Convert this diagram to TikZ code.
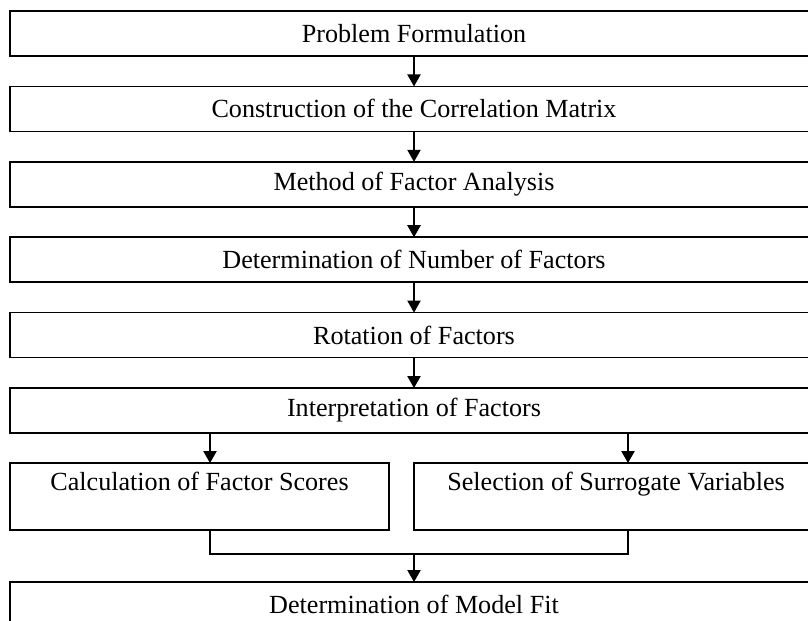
\documentclass[tikz,border=0pt]{standalone}
\usepackage{fontspec}
\setmainfont{Liberation Serif}
\usetikzlibrary{arrows.meta,positioning}

\begin{document}
\begin{tikzpicture}[% px units, y runs down
			x=0.75pt,y=-0.75pt,
			every node/.style={
				align=center,		% so that "\\" works
				inner sep=0pt,outer sep=0pt,
				font=\fontsize{19.6pt}{23.5pt}\selectfont
			},
			stepbox/.style={rectangle,draw=black,line width=1.3pt,minimum width=606pt,minimum height=33.75pt},
			splitbox/.style={rectangle,draw=black,line width=0.9pt,minimum height=50.25pt},
			every edge/.style={draw,line width=0.9pt},
			>={Triangle[width=10pt,length=9pt]},
			node distance=22.8pt
		]
		\useasboundingbox (0,0) rectangle (808,621);
		\node[stepbox](prob) at (414,33.5){Problem Formulation};
		\node[stepbox](corr)[below= of prob]{Construction of the Correlation Matrix};
		\node[stepbox](meth)[below= of corr]{Method of Factor Analysis};
		\node[stepbox](numf)[below= of meth]{Determination of Number of Factors};
		\node[stepbox](rot)[below= of numf]{Rotation of Factors};
		\node[stepbox,line width=0.9pt](interp)[below= of rot]{Interpretation of Factors};
		\node[splitbox,minimum width=284.25pt](calc)[below=22.5pt of interp.south west,anchor=north west]{Calculation of Factor Scores\\\mbox{}};
		\node[splitbox,minimum width=303pt](sel)[below=22.5pt of interp.south east,anchor=north east]{Selection of Surrogate Variables\\\mbox{}};
		\node[stepbox,line width=0.9pt](fit)[below=39pt of calc.south west,anchor=north west,xshift=0pt]{Determination of Model Fit};
		\coordinate (cl) at ([xshift=150pt]calc.south west);
		\coordinate (sr) at ([xshift=160.5pt]sel.south west);
		\coordinate (join) at ([yshift=-18pt]calc.south);
		\path[->]
		(prob)edge (corr)
		(corr)edge (meth)
		(meth)edge (numf)
		(numf)edge (rot)
		(rot)edge (interp)
		(cl |- interp.south)edge (cl |- calc.north)
		(sr |- interp.south)edge (sr |- sel.north)
		(fit.north |- join)edge (fit.north)
		;
		\draw[line width=0.9pt] (cl) -- (cl |- join) -- (sr |- join) -- (sr);
	\end{tikzpicture}
\end{document}
